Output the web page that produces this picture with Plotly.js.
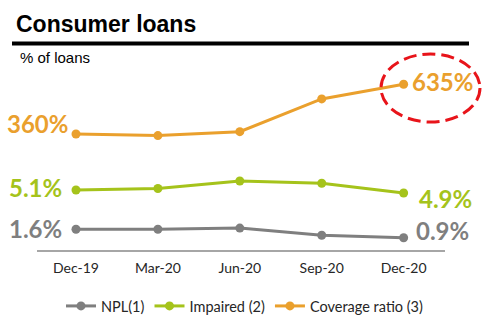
<!DOCTYPE html>
<html>
<head>
<meta charset="utf-8">
<script src="https://cdn.plot.ly/plotly-3.0.1.min.js"></script>
<style>html,body{margin:0;padding:0;background:#fff;}#chart{width:484px;height:316px;}</style>
</head>
<body>
<div id="chart"></div>
<script>
// ---- data ----
const quarters = ["Dec-19", "Mar-20", "Jun-20", "Sep-20", "Dec-20"];
const npl = [1.6, 1.6, 1.7, 1.1, 0.9];
const impaired = [5.1, 5.2, 5.7, 5.55, 4.9];
const coverage = [360, 351, 373, 554, 635];
const seriesNames = ["NPL(1)", "Impaired (2)", "Coverage ratio (3)"];

// ---- style ----
const cGray = "#7f7f7f", cGreen = "#a5c31b", cOrange = "#eaa02d";
const labelFont = "Lato, 'Open Sans', sans-serif";

function line(y, name, color, yaxis) {
  return {
    x: quarters, y: y, name: name, yaxis: yaxis, type: "scatter", mode: "lines+markers",
    line: {color: color, width: 3}, marker: {color: color, size: 9},
    hoverinfo: "skip", cliponaxis: false
  };
}

const data = [
  line(npl, seriesNames[0], cGray, "y"),
  line(impaired, seriesNames[1], cGreen, "y2"),
  line(coverage, seriesNames[2], cOrange, "y3")
];

function lab(x, y, yref, text, color, side, xs, ys) {
  return {
    x: x, y: y, xref: "x", yref: yref, text: text, showarrow: false,
    xanchor: side, yanchor: "middle", xshift: xs, yshift: ys,
    font: {family: labelFont, size: 24, color: color, weight: 700}
  };
}
const last = quarters.length - 1;
const annotations = [
  lab(quarters[0], coverage[0], "y3", coverage[0] + "%", cOrange, "right", -6, 11),
  lab(quarters[0], impaired[0], "y2", impaired[0].toFixed(1) + "%", cGreen, "right", -12, 3),
  lab(quarters[0], npl[0], "y", npl[0].toFixed(1) + "%", cGray, "right", -12, 1),
  lab(quarters[last], coverage[last], "y3", coverage[last] + "%", cOrange, "left", 6, 3),
  lab(quarters[last], impaired[last], "y2", impaired[last].toFixed(1) + "%", cGreen, "left", 13, -5),
  lab(quarters[last], npl[last], "y", npl[last].toFixed(1) + "%", cGray, "left", 10, 7),
  {
    text: "Consumer loans", xref: "paper", yref: "paper", x: (14 - 37) / 408, y: (250 - 24) / 200,
    xanchor: "left", yanchor: "middle", showarrow: false,
    font: {family: "Liberation Sans, Arial, sans-serif", size: 23, color: "#000", weight: 700}
  },
  {
    text: "% of loans", xref: "paper", yref: "paper", x: (18 - 37) / 408, y: (250 - 57) / 200,
    xanchor: "left", yanchor: "middle", showarrow: false,
    font: {family: "Liberation Sans, Arial, sans-serif", size: 15, color: "#000"}
  }
];

const px = v => (v - 37) / 408;
const py = v => (250 - v) / 200;

const layout = {
  width: 484, height: 316,
  margin: {l: 37, r: 39, t: 50, b: 66},
  paper_bgcolor: "#fff", plot_bgcolor: "#fff",
  showlegend: true,
  legend: {
    orientation: "h", xref: "container", yref: "container",
    x: 61 / 484, y: 1 - 306 / 316, xanchor: "left", yanchor: "middle",
    font: {family: labelFont, size: 14.5, color: "#262626"}, itemwidth: 30, tracegroupgap: 0
  },
  xaxis: {
    type: "category", range: [-0.476, 4.505], showgrid: false, zeroline: false,
    showline: true, linecolor: "#a6a6a6", linewidth: 1.5, ticks: "", ticklen: 0,
    ticklabelstandoff: 5,
    tickfont: {family: labelFont, size: 14, color: "#262626"}, fixedrange: true
  },
  yaxis: {range: [-0.125, 16.54], visible: false, fixedrange: true},
  yaxis2: {range: [1.1, 14.433], overlaying: "y", visible: false, fixedrange: true},
  yaxis3: {range: [-281.5, 824.5], overlaying: "y", visible: false, fixedrange: true},
  annotations: annotations,
  shapes: [
    {type: "rect", xref: "paper", yref: "paper", x0: px(12), x1: px(469), y0: py(45.5), y1: py(41.5),
     fillcolor: "#000", line: {width: 0}},
    {type: "circle", xref: "paper", yref: "paper", x0: px(381), x1: px(480), y0: py(122), y1: py(54),
     line: {color: "#e8141a", width: 3, dash: "13px,6px"}}
  ]
};

Plotly.newPlot("chart", data, layout, {displayModeBar: false, staticPlot: true});
</script>
</body>
</html>
